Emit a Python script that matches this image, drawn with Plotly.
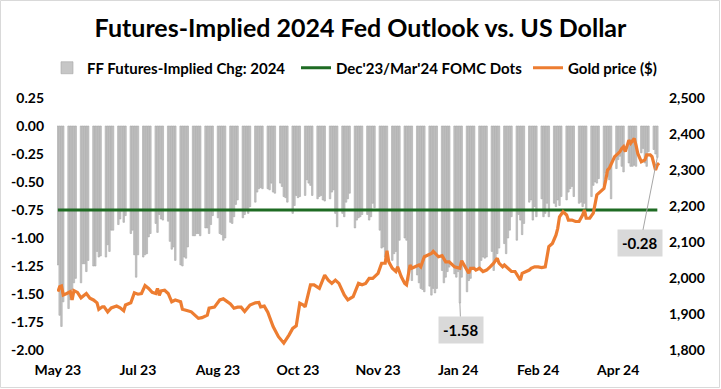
import plotly.graph_objects as go
import pandas as pd

# ---------------- data ----------------
title_text = "Futures-Implied 2024 Fed Outlook vs. US Dollar"
bar_name = "FF Futures-Implied Chg: 2024"
dots_name = "Dec'23/Mar'24 FOMC Dots"
gold_name = "Gold price ($)"

bar_start = "2023-05-23"
bar_end = "2024-04-24"

# one row per week (business days)
ff_implied_chg = [
    -1.24, -1.69, -1.79, -1.57,
    -1.63, -1.55, -1.46, -1.40, -1.36,
    -1.40, -1.23, -1.23, -1.30, -1.20,
    -1.25, -1.25, -1.12, -1.17, -1.16,
    -1.17, -1.06, -1.12, -0.93, -0.93,
    -0.88, -0.83, -0.76, -0.86, -0.80,
    -0.96, -0.93, -1.15, -1.35, -1.15,
    -1.17, -1.15, -1.14, -0.99, -0.96,
    -0.87, -0.95, -0.79, -0.83, -0.84,
    -0.85, -1.03, -1.10, -1.08, -1.20,
    -1.24, -1.25, -1.17, -1.18, -1.08,
    -0.98, -0.98, -0.96, -0.96, -0.98,
    -0.91, -0.91, -0.96, -0.88, -0.80,
    -0.82, -0.96, -0.97, -1.02, -1.00,
    -0.86, -0.87, -0.81, -0.70, -0.66,
    -0.82, -0.79, -0.75, -0.78, -0.72,
    -0.68, -0.59, -0.56, -0.55, -0.56,
    -0.56, -0.57, -0.51, -0.59, -0.60,
    -0.51, -0.54, -0.63, -0.64, -0.68,
    -0.78, -0.71, -0.62, -0.64, -0.63,
    -0.62, -0.48, -0.51, -0.53, -0.62,
    -0.65, -0.63, -0.62, -0.66, -0.67,
    -0.65, -0.59, -0.57, -0.78, -0.90,
    -0.78, -0.81, -0.68, -0.65, -0.60,
    -0.91, -0.84, -0.82, -0.81, -0.79,
    -0.79, -0.84, -0.81, -0.69, -0.73,
    -0.93, -1.09, -1.08, -1.17, -1.20,
    -1.20, -1.14, -1.12, -1.26, -1.02,
    -1.00, -1.02, -1.38, -1.27, -1.38,
    -1.33, -1.40, -1.45, -1.46, -1.48,
    -1.43, -1.51, -1.45, -1.49, -1.45,
    -1.29, -1.40, -1.35, -1.30, -1.26,
    -1.32, -1.35, -1.30, -1.58, -1.35,
    -1.48, -1.38, -1.36, -1.26, -1.26,
    -1.27, -1.20, -1.17, -1.18, -1.17,
    -1.12, -1.29, -1.20, -1.14, -1.09,
    -1.05, -1.14, -1.00, -0.93, -0.81,
    -1.02, -0.79, -0.84, -0.97, -0.87,
    -0.68, -0.66, -0.84, -0.72, -0.81,
    -0.65, -0.81, -0.78, -0.69, -0.81,
    -0.69, -0.72, -0.66, -0.71, -0.63,
    -0.66, -0.59, -0.56, -0.54, -0.63,
    -0.69, -0.68, -0.72, -0.69, -0.75,
    -0.63, -0.53, -0.50, -0.51, -0.47,
    -0.53, -0.42, -0.45, -0.48, -0.65,
    -0.38, -0.30, -0.27, -0.36, -0.41,
    -0.33, -0.36, -0.36, -0.35, -0.36,
    -0.24, -0.20, -0.33, -0.36, -0.23,
    -0.21, -0.25, -0.28,
]

fomc_dots = -0.75

# bars that carry a data label
label_dates = ["2024-01-04", "2024-04-24"]

gold_dates = [
    "2023-05-23", "2023-05-24", "2023-05-25", "2023-05-26", "2023-05-28", "2023-05-30",
    "2023-05-31", "2023-06-01", "2023-06-03", "2023-06-05", "2023-06-08", "2023-06-10",
    "2023-06-12", "2023-06-14", "2023-06-15", "2023-06-17", "2023-06-18", "2023-06-20",
    "2023-06-22", "2023-06-25", "2023-06-27", "2023-06-29", "2023-06-30", "2023-07-03",
    "2023-07-05", "2023-07-07", "2023-07-09", "2023-07-11", "2023-07-13", "2023-07-15",
    "2023-07-17", "2023-07-18", "2023-07-19", "2023-07-20", "2023-07-22", "2023-07-24",
    "2023-07-26", "2023-07-28", "2023-07-31", "2023-08-01", "2023-08-04", "2023-08-06",
    "2023-08-08", "2023-08-10", "2023-08-12", "2023-08-15", "2023-08-16", "2023-08-19",
    "2023-08-22", "2023-08-24", "2023-08-28", "2023-08-30", "2023-09-01", "2023-09-03",
    "2023-09-05", "2023-09-08", "2023-09-11", "2023-09-13", "2023-09-14", "2023-09-16",
    "2023-09-18", "2023-09-20", "2023-09-21", "2023-09-24", "2023-09-27", "2023-09-30",
    "2023-10-02", "2023-10-04", "2023-10-06", "2023-10-08", "2023-10-09", "2023-10-12",
    "2023-10-14", "2023-10-17", "2023-10-20", "2023-10-22", "2023-10-24", "2023-10-26",
    "2023-10-28", "2023-10-31", "2023-11-02", "2023-11-05", "2023-11-08", "2023-11-10",
    "2023-11-12", "2023-11-14", "2023-11-16", "2023-11-19", "2023-11-21", "2023-11-23",
    "2023-11-24", "2023-11-25", "2023-11-27", "2023-11-29", "2023-11-30", "2023-12-02",
    "2023-12-04", "2023-12-05", "2023-12-07", "2023-12-08", "2023-12-10", "2023-12-12",
    "2023-12-13", "2023-12-15", "2023-12-19", "2023-12-20", "2023-12-23", "2023-12-25",
    "2023-12-27", "2023-12-29", "2024-01-01", "2024-01-04", "2024-01-05", "2024-01-07",
    "2024-01-09", "2024-01-10", "2024-01-12", "2024-01-13", "2024-01-15", "2024-01-17",
    "2024-01-19", "2024-01-21", "2024-01-23", "2024-01-25", "2024-01-26", "2024-01-28",
    "2024-01-29", "2024-01-31", "2024-02-02", "2024-02-04", "2024-02-06", "2024-02-07",
    "2024-02-08", "2024-02-10", "2024-02-12", "2024-02-13", "2024-02-15", "2024-02-17",
    "2024-02-19", "2024-02-21", "2024-02-22", "2024-02-23", "2024-02-25", "2024-02-27",
    "2024-02-28", "2024-02-29", "2024-03-02", "2024-03-04", "2024-03-05", "2024-03-07",
    "2024-03-09", "2024-03-11", "2024-03-13", "2024-03-14", "2024-03-15", "2024-03-17",
    "2024-03-19", "2024-03-20", "2024-03-21", "2024-03-23", "2024-03-25", "2024-03-26",
    "2024-03-27", "2024-03-28", "2024-03-30", "2024-03-31", "2024-04-02", "2024-04-03",
    "2024-04-04", "2024-04-05", "2024-04-06", "2024-04-07", "2024-04-08", "2024-04-09",
    "2024-04-11", "2024-04-12", "2024-04-13", "2024-04-15", "2024-04-17", "2024-04-18",
    "2024-04-20", "2024-04-21", "2024-04-23", "2024-04-24", "2024-04-25",
]
gold_prices = [
    1962, 1976, 1978, 1953, 1957, 1962,
    1939, 1965, 1960, 1945, 1957, 1944,
    1939, 1931, 1913, 1920, 1920, 1906,
    1917, 1922, 1917, 1909, 1925, 1931,
    1959, 1955, 1957, 1979, 1971, 1960,
    1957, 1971, 1952, 1964, 1966, 1957,
    1934, 1939, 1934, 1913, 1909, 1906,
    1897, 1888, 1890, 1897, 1916, 1919,
    1939, 1942, 1928, 1916, 1919, 1919,
    1907, 1925, 1931, 1932, 1920, 1922,
    1905, 1874, 1865, 1837, 1819, 1842,
    1860, 1867, 1930, 1925, 1920, 1981,
    1981, 1971, 2008, 1994, 1985, 1994,
    1985, 1953, 1939, 1948, 1985, 1981,
    1985, 1999, 1999, 2013, 2041, 2041,
    2076, 2045, 2027, 2018, 2031, 2004,
    1985, 1981, 2036, 2027, 2031, 2036,
    2031, 2059, 2068, 2074, 2059, 2062,
    2045, 2045, 2031, 2027, 2048, 2031,
    2013, 2027, 2027, 2022, 2027, 2018,
    2022, 2031, 2041, 2055, 2041, 2031,
    2036, 2027, 2018, 2018, 2004, 1994,
    2013, 2018, 2022, 2027, 2031, 2031,
    2029, 2031, 2059, 2087, 2096, 2119,
    2138, 2170, 2184, 2175, 2161, 2161,
    2157, 2157, 2175, 2189, 2166, 2166,
    2180, 2207, 2231, 2240, 2249, 2272,
    2300, 2305, 2328, 2337, 2346, 2351,
    2360, 2365, 2351, 2369, 2383, 2374,
    2388, 2369, 2346, 2323, 2328, 2342,
    2342, 2337, 2300, 2314, 2319,
]

x_tick_dates = ["2023-05-23", "2023-07-07", "2023-08-21", "2023-10-05",
                "2023-11-19", "2024-01-03", "2024-02-17", "2024-04-02"]
x_tick_labels = ["May 23", "Jul 23", "Aug 23", "Oct 23",
                 "Nov 23", "Jan 24", "Feb 24", "Apr 24"]
left_ticks = [0.25, 0.0, -0.25, -0.5, -0.75, -1.0, -1.25, -1.5, -1.75, -2.0]
left_tick_labels = ["0.25", "0.00", "-0.25", "-0.50", "-0.75", "-1.00",
                    "-1.25", "-1.50", "-1.75", "-2.00"]
right_ticks = [1800, 1900, 2000, 2100, 2200, 2300, 2400, 2500]
right_tick_labels = ["1,800", "1,900", "2,000", "2,100", "2,200", "2,300", "2,400", "2,500"]

x_range = ["2023-05-22 12:00", "2024-04-25 12:00"]

# ---------------- figure ----------------
bar_dates = list(pd.bdate_range(bar_start, bar_end))
n = min(len(bar_dates), len(ff_implied_chg))
bar_dates = bar_dates[:n]
ff_vals = ff_implied_chg[:n]
bar_series = pd.Series(ff_vals, index=pd.DatetimeIndex(bar_dates))

FONT = "Lato"
W, H = 721, 389
ML, MR, MT, MB = 57, 61, 98, 39
PW, PH = W - ML - MR, H - MT - MB

fig = go.Figure()
fig.add_trace(go.Bar(
    x=bar_dates, y=ff_vals, name=bar_name, legend="legend",
    marker=dict(color="#c6c6c6", line=dict(color="#a6a6a6", width=0.6)),
    yaxis="y",
))
fig.add_trace(go.Scatter(
    x=[bar_dates[0], bar_dates[-1]], y=[fomc_dots, fomc_dots], name=dots_name,
    legend="legend2",
    mode="lines", line=dict(color="#1e6b23", width=3), yaxis="y",
))
fig.add_trace(go.Scatter(
    x=pd.to_datetime(gold_dates), y=gold_prices, name=gold_name, legend="legend3",
    mode="lines", line=dict(color="#ed7d31", width=3.2), yaxis="y2",
))

label_offsets = [(1, 27), (-17, 86)]
anns = []
for d, (ax, ay) in zip(label_dates, label_offsets):
    v = float(bar_series.loc[pd.Timestamp(d)])
    anns.append(dict(
        x=pd.Timestamp(d), y=v, xref="x", yref="y",
        text=f"{v:.2f}", showarrow=True, arrowhead=0, arrowwidth=1,
        arrowcolor="#a6a6a6", ax=ax, ay=ay, bgcolor="#d9d9d9", borderpad=4,
        font=dict(family=FONT, size=15, color="black", weight="bold")))


def legend_at(px_left):
    return dict(orientation="h", x=(px_left - ML) / PW, xanchor="left",
                y=1 + (MT - 68) / PH, yanchor="middle",
                font=dict(family=FONT, size=15, color="black", weight="bold"),
                bgcolor="rgba(0,0,0,0)", itemwidth=30)


fig.update_layout(
    width=W, height=H,
    margin=dict(l=ML, r=MR, t=MT, b=MB, pad=0),
    paper_bgcolor="white", plot_bgcolor="white",
    font=dict(family=FONT, size=14, color="black", weight="bold"),
    title=dict(text=title_text, x=0.5, xanchor="center", y=1 - 28 / H, yanchor="middle",
               font=dict(family=FONT, size=25, color="black", weight="bold")),
    showlegend=True,
    legend=legend_at(47),
    legend2=legend_at(296),
    legend3=legend_at(528),
    bargap=0.15,
    xaxis=dict(type="date", range=x_range, tickvals=x_tick_dates, ticktext=x_tick_labels,
               showgrid=False, zeroline=False, showline=False, ticks="",
               tickfont=dict(family=FONT, size=14, color="black", weight="bold"),
               ticklabelstandoff=10),
    yaxis=dict(range=[-2.0, 0.25], tickvals=left_ticks, ticktext=left_tick_labels,
               showgrid=False, zeroline=False, showline=False, ticks="",
               tickfont=dict(family=FONT, size=14, color="black", weight="bold"),
               ticklabelstandoff=12),
    yaxis2=dict(range=[1800, 2500], tickvals=right_ticks, ticktext=right_tick_labels,
                overlaying="y", side="right", showgrid=False, zeroline=False,
                showline=False, ticks="",
                tickfont=dict(family=FONT, size=14, color="black", weight="bold"),
                ticklabelstandoff=8),
    annotations=anns,
    shapes=[dict(type="rect", xref="paper", yref="paper",
                 x0=(-ML + 0.5) / PW, x1=1 + (MR - 1.5) / PW,
                 y0=(-MB + 1.5) / PH, y1=1 + (MT - 0.5) / PH,
                 line=dict(color="#d9d9d9", width=1), fillcolor="rgba(0,0,0,0)",
                 layer="below")],
)

fig.write_html("out.html", config={"displayModeBar": False},
               post_script="document.body.style.margin='0px';")
